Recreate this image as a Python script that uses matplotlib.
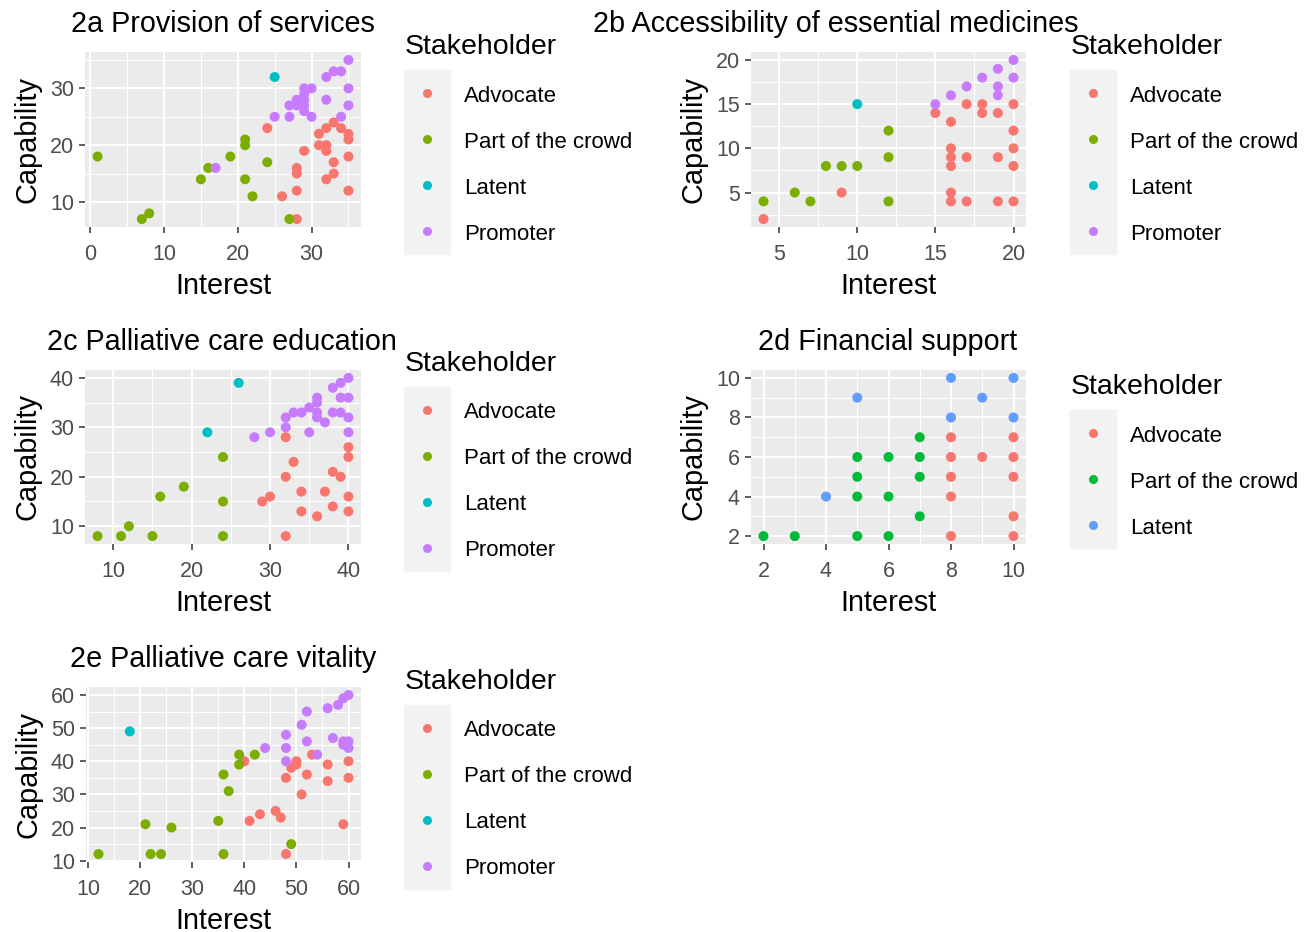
import matplotlib
matplotlib.use("Agg")
import matplotlib.pyplot as plt
from matplotlib.patches import Rectangle
from matplotlib.ticker import MultipleLocator

plt.rcParams["font.family"] = ["Liberation Sans", "DejaVu Sans"]

# ---- data ----------------------------------------------------------------
# 2a Provision of services
a_adv_x = [24, 29, 28, 28, 28, 26, 28, 31, 31, 32, 32, 32, 33, 33, 33, 32, 34, 35, 35, 35, 35]
a_adv_y = [23, 19, 16, 15, 12, 11, 7, 22, 20, 23, 20, 19, 24, 17, 15, 14, 23, 22, 21, 18, 12]
a_crowd_x = [1, 7, 8, 15, 16, 19, 21, 21, 21, 22, 24, 27]
a_crowd_y = [18, 7, 8, 14, 16, 18, 21, 20, 14, 11, 17, 7]
a_lat_x = [25]
a_lat_y = [32]
a_prom_x = [17, 25, 27, 27, 28, 28, 29, 29, 29, 29, 30, 29, 30, 32, 33, 34, 35, 35, 35, 32, 34]
a_prom_y = [16, 25, 25, 27, 28, 27, 27, 28, 29, 30, 30, 26, 25, 32, 33, 33, 35, 30, 27, 28, 25]

# 2b Accessibility of essential medicines
b_adv_x = [4, 9, 15, 16, 16, 16, 16, 16, 16, 17, 17, 17, 18, 18, 19, 19, 19, 20, 20, 20, 20, 20]
b_adv_y = [2, 5, 14, 13, 10, 9, 8, 5, 4, 15, 9, 4, 15, 14, 14, 9, 4, 15, 12, 10, 8, 4]
b_crowd_x = [4, 6, 7, 8, 9, 10, 12, 12, 12]
b_crowd_y = [4, 5, 4, 8, 8, 8, 12, 9, 4]
b_lat_x = [10]
b_lat_y = [15]
b_prom_x = [15, 16, 17, 18, 19, 19, 19, 20, 20]
b_prom_y = [15, 16, 17, 18, 19, 17, 16, 20, 18]

# 2c Palliative care education
c_adv_x = [32, 40, 40, 33, 32, 38, 39, 29, 30, 34, 37, 40, 34, 36, 38, 40, 32]
c_adv_y = [28, 26, 24, 23, 20, 21, 20, 15, 16, 17, 17, 16, 13, 12, 14, 13, 8]
c_crowd_x = [8, 11, 12, 15, 16, 19, 24, 24, 24]
c_crowd_y = [8, 8, 10, 8, 16, 18, 24, 15, 8]
c_lat_x = [22, 26]
c_lat_y = [29, 39]
c_prom_x = [28, 30, 32, 32, 33, 34, 35, 35, 36, 36, 36, 36, 37, 38, 38, 39, 39, 39, 40, 40, 40, 40]
c_prom_y = [28, 29, 30, 32, 33, 33, 29, 34, 36, 35, 33, 32, 31, 38, 33, 39, 36, 33, 40, 36, 32, 29]

# 2d Financial support
d_adv_x = [8, 8, 8, 8, 8, 9, 10, 10, 10, 10, 10]
d_adv_y = [7, 6, 5, 4, 2, 6, 7, 6, 5, 3, 2]
d_crowd_x = [2, 3, 5, 5, 5, 5, 6, 6, 6, 7, 7, 7, 7]
d_crowd_y = [2, 2, 2, 4, 5, 6, 2, 4, 6, 3, 5, 6, 7]
d_lat_x = [4, 5, 8, 8, 9, 10, 10]
d_lat_y = [4, 9, 10, 8, 9, 10, 8]

# 2e Palliative care vitality
e_adv_x = [40, 41, 43, 46, 47, 48, 48, 49, 50, 50, 51, 52, 53, 56, 56, 59, 60, 60]
e_adv_y = [40, 22, 24, 25, 23, 12, 35, 38, 39, 40, 30, 36, 42, 39, 34, 21, 40, 35]
e_crowd_x = [12, 21, 22, 24, 26, 35, 36, 36, 37, 39, 39, 42, 49]
e_crowd_y = [12, 21, 12, 12, 20, 22, 12, 36, 31, 42, 39, 42, 15]
e_lat_x = [18]
e_lat_y = [49]
e_prom_x = [44, 48, 48, 48, 51, 52, 52, 54, 56, 57, 58, 59, 60, 59, 59, 60, 60]
e_prom_y = [44, 48, 44, 40, 51, 55, 46, 42, 56, 47, 57, 59, 60, 45, 46, 46, 44]

LABELS4 = ["Advocate", "Part of the crowd", "Latent", "Promoter"]
COLORS4 = ["#F8766D", "#7CAE00", "#00BFC4", "#C77CFF"]
LABELS3 = ["Advocate", "Part of the crowd", "Latent"]
COLORS3 = ["#F8766D", "#00BA38", "#619CFF"]

W, H = 1309, 932
fig = plt.figure(figsize=(W / 100, H / 100), dpi=100)


def px_axes(x0, y0, x1, y1):
    return fig.add_axes([x0 / W, 1 - y1 / H, (x1 - x0) / W, (y1 - y0) / H])


def panel(box, series, colors, step, title, title_cx):
    ax = px_axes(*box)
    ax.set_facecolor("#EBEBEB")
    xs_all = [v for s in series for v in s[0]]
    ys_all = [v for s in series for v in s[1]]
    for (xs, ys), col in zip(series, colors):
        ax.scatter(xs, ys, s=52, color=col, edgecolors="none", zorder=3)
    for vals, setter in ((xs_all, ax.set_xlim), (ys_all, ax.set_ylim)):
        lo, hi = min(vals), max(vals)
        pad = (hi - lo) * 0.05
        setter(lo - pad, hi + pad)
    ax.xaxis.set_major_locator(MultipleLocator(step[0]))
    ax.yaxis.set_major_locator(MultipleLocator(step[1]))
    ax.xaxis.set_minor_locator(MultipleLocator(step[0] / 2))
    ax.yaxis.set_minor_locator(MultipleLocator(step[1] / 2))
    ax.grid(which="major", color="white", lw=1.4, zorder=1)
    ax.grid(which="minor", color="white", lw=0.7, zorder=1)
    ax.set_axisbelow(True)
    for sp in ax.spines.values():
        sp.set_visible(False)
    ax.tick_params(which="major", length=4, width=1.1, color="#333333",
                   labelsize=15.5, labelcolor="#4D4D4D")
    ax.tick_params(axis="x", which="major", pad=8)
    ax.tick_params(axis="y", which="major", pad=4)
    ax.tick_params(which="minor", length=0)
    ax.set_xlabel("Interest", fontsize=20.8, labelpad=5)
    ax.set_ylabel("Capability", fontsize=20.8, labelpad=6)
    fig.text(title_cx / W, 1 - (box[1] - 28) / H, title, fontsize=20.7,
             ha="center", va="center")
    return ax


def legend(x0, y_title, labels, colors):
    fig.text((x0 + 1) / W, 1 - (y_title + 3) / H, "Stakeholder", fontsize=20.5,
             ha="left", va="center")
    top = y_title + 26
    key = 46
    fig.patches.append(Rectangle((x0 / W, 1 - (top + key * len(labels)) / H),
                                 key / W, key * len(labels) / H,
                                 transform=fig.transFigure, color="#F2F2F2",
                                 zorder=0))
    for i, (lab, col) in enumerate(zip(labels, colors)):
        cy = top + key * i + key / 2
        fig.lines.append(plt.Line2D([(x0 + key / 2) / W], [1 - cy / H],
                                    marker="o", ms=6.5, color=col, mec="none",
                                    transform=fig.transFigure))
        fig.text((x0 + 60) / W, 1 - (cy + 3) / H, lab, fontsize=16,
                 ha="left", va="center")


panel((85, 52, 361, 227),
      [(a_adv_x, a_adv_y), (a_crowd_x, a_crowd_y), (a_lat_x, a_lat_y), (a_prom_x, a_prom_y)],
      COLORS4, (10, 10), "2a Provision of services", 223)
legend(404, 44, LABELS4, COLORS4)

panel((751, 52, 1026, 227),
      [(b_adv_x, b_adv_y), (b_crowd_x, b_crowd_y), (b_lat_x, b_lat_y), (b_prom_x, b_prom_y)],
      COLORS4, (5, 5), "2b Accessibility of essential medicines", 836)
legend(1070, 44, LABELS4, COLORS4)

panel((85, 370, 361, 544),
      [(c_adv_x, c_adv_y), (c_crowd_x, c_crowd_y), (c_lat_x, c_lat_y), (c_prom_x, c_prom_y)],
      COLORS4, (10, 10), "2c Palliative care education", 222)
legend(404, 361, LABELS4, COLORS4)

panel((751, 370, 1026, 544),
      [(d_adv_x, d_adv_y), (d_crowd_x, d_crowd_y), (d_lat_x, d_lat_y)],
      COLORS3, (2, 2), "2d Financial support", 888)
legend(1070, 384, LABELS3, COLORS3)

panel((86, 687, 361, 862),
      [(e_adv_x, e_adv_y), (e_crowd_x, e_crowd_y), (e_lat_x, e_lat_y), (e_prom_x, e_prom_y)],
      COLORS4, (10, 10), "2e Palliative care vitality", 223)
legend(404, 679, LABELS4, COLORS4)

fig.savefig("out.png", dpi=100, facecolor="white")
